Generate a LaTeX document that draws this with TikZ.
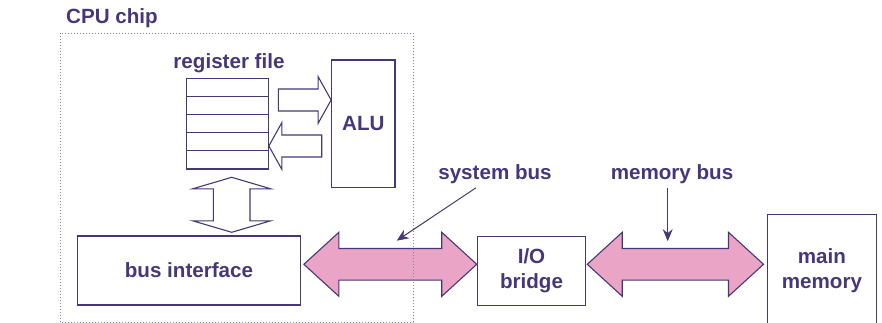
\documentclass[tikz,border=0pt]{standalone}
\usepackage{fontspec}
\setmainfont{Liberation Sans}
\usetikzlibrary{arrows.meta,calc}
\definecolor{chipink}{RGB}{70,56,120}
\definecolor{buspink}{RGB}{234,164,198}
\tikzstyle{box} = [draw=chipink, line width=1.1pt, inner sep=0pt, text=chipink]
\tikzstyle{lbl} = [text=chipink, inner sep=0pt]
\tikzstyle{pointer} = [-{Stealth[length=12pt,width=10pt]}, draw=chipink, line width=1pt]
\tikzstyle{hollow} = [draw=chipink, fill=white, line width=1.1pt, line join=miter]
\tikzstyle{bus} = [draw=chipink, fill=buspink, line width=1.1pt, line join=miter]

% pink double block arrow, left tip #1, right tip #2
\newcommand{\busarrow}[2]{%
  \path[bus] let \p1=(#1), \p2=(#2) in
    (\x1,\y1) -- (\x1+35pt,\y1+32pt) -- (\x1+35pt,\y1+15.8pt) -- (\x2-35pt,\y1+15.8pt)
    -- (\x2-35pt,\y1+32pt) -- (\x2,\y1) -- (\x2-35pt,\y1-32pt) -- (\x2-35pt,\y1-15.8pt)
    -- (\x1+35pt,\y1-15.8pt) -- (\x1+35pt,\y1-32pt) -- cycle;}
% hollow block arrow, tail #1, tip #2
\newcommand{\regarrow}[2]{%
  \path[hollow] let \p1=(#1), \p2=(#2), \n1={13*sign(\x2-\x1)} in
    (\x1,\y1+11pt) -- ({\x2-(\n1)},\y1+11pt) -- ({\x2-(\n1)},\y1+23.4pt) -- (\x2,\y1)
    -- ({\x2-(\n1)},\y1-23.4pt) -- ({\x2-(\n1)},\y1-11pt) -- (\x1,\y1-11pt) -- cycle;}

\begin{document}
\begin{tikzpicture}[x=1pt, y=-1pt, every node/.style={font=\fontsize{20.6}{24.5}\selectfont\bfseries}]
    \useasboundingbox (0,0) rectangle (882,323);

    % register file and ALU
    \foreach \i in {0,...,4}
        \node[box, minimum width=81.6pt, minimum height=18.14pt] (r\i) at (227.5,87.4+18.14*\i) {};
    \node[lbl, anchor=base] (rflabel) at (229,68.3) {register file};
    \node[box, minimum width=63.3pt, minimum height=127.3pt] (alu) at (363.3,123.7) {ALU};

    % boxes on the buses
    \node[box, minimum width=223.4pt, minimum height=69pt] (bi) at (189,270.5) {bus interface};
    \node[box, minimum width=108.4pt, minimum height=68.3pt, align=center] (bridge) at (531.5,270.9) {I/O\\bridge};
    \node[box, minimum width=108.3pt, minimum height=112.6pt, align=center] (mem) at (821.9,270.6) {main\\memory};

    \coordinate (rftail) at (278.3,100);
    \coordinate (alutail) at (321.7,146);
    \coordinate (alutip) at (alu.west |- rftail);
    \coordinate (rftip) at (r0.east |- alutail);
    \regarrow{rftail}{alutip}
    \regarrow{alutail}{rftip}

    \coordinate (rfbot) at (231.7,177.3);
    \coordinate (bitop) at (231.7,232.3);
    \path[hollow] let \p1=(rfbot), \p2=(bitop) in
        (\x1,\y1) -- (\x1+39pt,\y1-11.5pt) -- (\x1+18.3pt,\y1-11.5pt) -- (\x1+18.3pt,\y2+11.5pt)
        -- (\x1+39pt,\y2+11.5pt) -- (\x2,\y2) -- (\x1-39pt,\y2+11.5pt) -- (\x1-18.3pt,\y2+11.5pt)
        -- (\x1-18.3pt,\y1-11.5pt) -- (\x1-39pt,\y1-11.5pt) -- cycle;

    \busarrow{[xshift=2.6pt,yshift=6.2pt]bi.east}{bridge.west}
    \busarrow{[xshift=1pt,yshift=6.6pt]bridge.east}{[xshift=-3.7pt]mem.west}

    % bus labels
    \node[lbl, anchor=base] (sysbus) at (495,179.3) {system bus};
    \node[lbl, anchor=base] (membus) at (672,179.3) {memory bus};
    \coordinate (systip) at (396.7,240.7);
    \draw[pointer] (sysbus.south) ++(-19,4) -- (systip);
    \draw[pointer] (membus.south) ++(-4.3,4) -- ++(0,53.4);

    % chip outline
    \draw[chipink!65, line width=0.9pt, dash pattern=on 0.9pt off 2.1pt] (60,33) rectangle (413,322);
    \node[lbl, anchor=base west] (cpu) at (66,24) {CPU chip};
\end{tikzpicture}
\end{document}
